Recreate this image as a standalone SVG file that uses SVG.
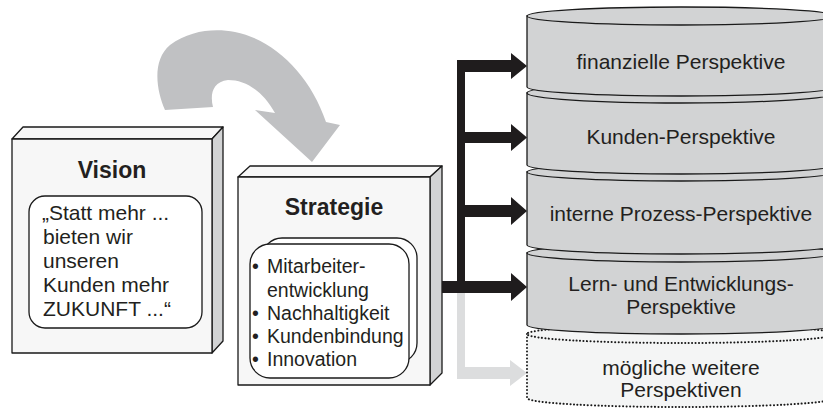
<svg xmlns="http://www.w3.org/2000/svg" width="823" height="413" viewBox="0 0 823 413">
<style>
text{font-family:"Liberation Sans",Arial,sans-serif;fill:#231f20}
.t{font-size:21px}
.s{font-size:19.5px}
.c{text-anchor:middle}
.h{font-size:23px;font-weight:bold;text-anchor:middle}
.face{fill:#f7f7f7;stroke:#1a1a1a;stroke-width:1.3;stroke-linejoin:round}
.side{fill:#d2d3d4;stroke:#1a1a1a;stroke-width:1.3;stroke-linejoin:round}
.inner{fill:#fff;stroke:#1a1a1a;stroke-width:1.3}
.cyl{fill:#d2d3d4;stroke:#1a1a1a;stroke-width:1.3}
.dot{fill:#f4f5f5;stroke:#1a1a1a;stroke-width:2;stroke-dasharray:0.1 3.4;stroke-linecap:round}
.blk{fill:#1f1c1d}
.gry{fill:#dcddde}
</style>
<g id="curved-arrow">
<path d="M165,110 C156,90 152,60 170,45 C190,30 215,28 235,32 C275,40 310,75 326,122 L340,125 L312,162 L255,110 L275,113 C262,90 245,80 228,80 C212,82 210,95 213,107 Z" fill="#c0c1c3"/>
</g>
<g id="vision">
<polygon class="face" points="12,139 23,127 223,127 212,139"/>
<polygon class="side" points="212,139 223,127 223,341 212,353"/>
<rect class="face" x="12" y="139" width="200" height="214"/>
<text class="h" x="112" y="178">Vision</text>
<rect class="inner" x="29" y="196" width="173" height="132" rx="16"/>
<text class="t" x="42" y="220">„Statt mehr ...</text>
<text class="t" x="43" y="244">bieten wir</text>
<text class="t" x="43" y="268">unseren</text>
<text class="t" x="43" y="292">Kunden mehr</text>
<text class="t" x="43" y="316">ZUKUNFT ...“</text>
</g>
<g id="strategie">
<polygon class="face" points="238,177 250,166 442,166 430,177"/>
<polygon class="side" points="430,177 442,166 442,373 430,385"/>
<rect class="face" x="238" y="177" width="192" height="208"/>
<text class="h" x="334" y="215">Strategie</text>
<rect class="inner" x="262" y="238" width="155" height="125" rx="20"/>
<rect class="inner" x="250" y="244" width="159" height="134" rx="20"/>
<text class="s" x="252" y="273">•</text><text class="s" x="267" y="273">Mitarbeiter-</text>
<text class="s" x="267" y="297">entwicklung</text>
<text class="s" x="252" y="320">•</text><text class="s" x="267" y="320">Nachhaltigkeit</text>
<text class="s" x="252" y="343">•</text><text class="s" x="267" y="343">Kundenbindung</text>
<text class="s" x="252" y="366">•</text><text class="s" x="267" y="366">Innovation</text>
</g>
<g id="connectors">
<rect class="gry" x="457" y="293" width="8" height="86"/>
<path class="gry" d="M457,367 H510 V360 L527,373 L510,386 V379 H457 Z"/>
<rect class="blk" x="457" y="60" width="8" height="233"/>
<path class="blk" d="M457,60 H511 V53 L527,66 L511,79 V72 H457 Z"/>
<path class="blk" d="M457,132 H511 V124 L527,137.5 L511,151 V143 H457 Z"/>
<path class="blk" d="M457,205 H511 V197 L527,211 L511,225 V217 H457 Z"/>
<path class="blk" d="M442,281 H511 V273 L527,287 L511,301 V293 H442 Z"/>
</g>
<g id="weitere">
<path class="dot" d="M527,334 V398 A154,9 0 0 0 835,398 V334"/>
<ellipse class="dot" cx="681" cy="334" rx="154" ry="9"/>
<text class="t c" x="681" y="375">mögliche weitere</text>
<text class="t c" x="681" y="397">Perspektiven</text>
</g>
<g id="lernen">
<path class="cyl" d="M527,253 V325 A154,9 0 0 0 835,325 V253 Z"/>
<ellipse class="cyl" cx="681" cy="253" rx="154" ry="9"/>
<text class="t c" x="681" y="291">Lern- und Entwicklungs-</text>
<text class="t c" x="681" y="314">Perspektive</text>
</g>
<g id="prozess">
<path class="cyl" d="M527,172 V245 A154,9 0 0 0 835,245 V172 Z"/>
<ellipse class="cyl" cx="681" cy="172" rx="154" ry="9"/>
<text class="t c" x="681" y="221">interne Prozess-Perspektive</text>
</g>
<g id="kunden">
<path class="cyl" d="M527,93 V165 A154,9 0 0 0 835,165 V93 Z"/>
<ellipse class="cyl" cx="681" cy="93" rx="154" ry="10"/>
<text class="t c" x="681" y="144">Kunden-Perspektive</text>
</g>
<g id="finanziell">
<path class="cyl" d="M527,16 V87 A154,9 0 0 0 835,87 V16 Z"/>
<ellipse class="cyl" cx="681" cy="16" rx="154" ry="9"/>
<text class="t c" x="681" y="69">finanzielle Perspektive</text>
</g>
</svg>
